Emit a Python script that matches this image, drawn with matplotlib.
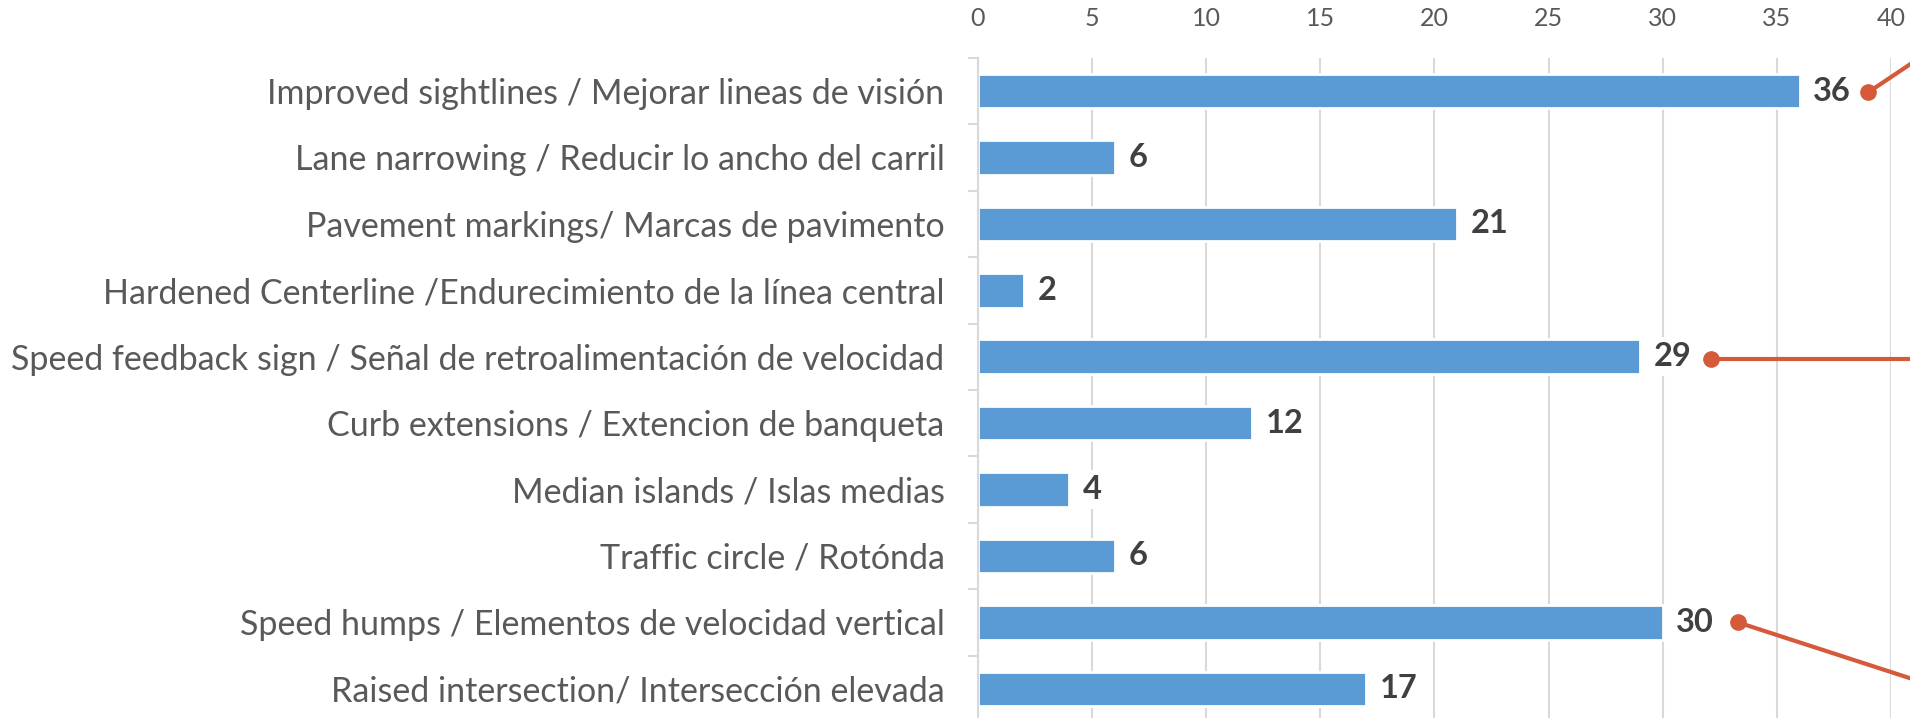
import numpy as np
import matplotlib.pyplot as plt

categories = [
    "Improved sightlines / Mejorar lineas de visión",
    "Lane narrowing / Reducir lo ancho del carril",
    "Pavement markings/ Marcas de pavimento",
    "Hardened Centerline /Endurecimiento de la línea central",
    "Speed feedback sign / Señal de retroalimentación de velocidad",
    "Curb extensions / Extencion de banqueta",
    "Median islands / Islas medias",
    "Traffic circle / Rotónda",
    "Speed humps / Elementos de velocidad vertical",
    "Raised intersection/ Intersección elevada",
]
counts = [36, 6, 21, 2, 29, 12, 4, 6, 30, 17]
x_ticks = [0, 5, 10, 15, 20, 25, 30, 35, 40]

# leader lines running off to callouts outside the crop
callout_x = [39.0, 32.1, 33.3]
callout_y = [0.02, 4.03, 8.0]
callout_end_x = [42.0, 42.0, 42.0]
callout_end_y = [-0.67, 4.03, 8.97]

BLUE = "#5B9BD5"
RED = "#D45A3A"
GRID = "#D9D9D9"

plt.rcParams["font.family"] = ["Lato", "DejaVu Sans"]

fig = plt.figure(figsize=(19.1, 7.18), dpi=100)
ax = fig.add_axes([0.512, -0.0056, 0.478, 0.925])

y = np.arange(len(categories))
ax.barh(y, counts, height=0.52, color=BLUE, edgecolor="white", linewidth=2, zorder=2)

for yi, v in zip(y, counts):
    ax.text(v + 0.6, yi, str(v), va="center", ha="left", fontsize=23.5,
            fontweight="bold", color="#404040", zorder=3,
            bbox=dict(boxstyle="square,pad=0.15", fc="white", ec="none"))

for x0, y0, x1, y1 in zip(callout_x, callout_y, callout_end_x, callout_end_y):
    ax.plot([x0, x1], [y0, y1], color=RED, lw=3, clip_on=False, zorder=4)
    ax.plot([x0], [y0], "o", color=RED, ms=11, clip_on=False, zorder=5)

ax.set_xlim(0, 40)
ax.set_ylim(len(categories) - 0.5, -0.5)
ax.xaxis.tick_top()
ax.set_xticks(x_ticks)
ax.tick_params(axis="x", length=0, pad=20, labelsize=18, labelcolor="#595959")
ax.grid(axis="x", color=GRID, lw=1.5, zorder=0)
ax.set_axisbelow(True)

ax.set_yticks(y)
ax.set_yticklabels(categories)
ax.set_yticks(np.arange(-0.5, len(categories)), minor=True)
ax.tick_params(axis="y", which="major", length=0, pad=24, labelsize=24.5, labelcolor="#595959")
ax.tick_params(axis="y", which="minor", length=7, width=1.5, color=GRID)

for s in ["top", "right", "bottom"]:
    ax.spines[s].set_visible(False)
ax.spines["left"].set_color(GRID)
ax.spines["left"].set_linewidth(1.5)

fig.savefig("out.png", dpi=100)
